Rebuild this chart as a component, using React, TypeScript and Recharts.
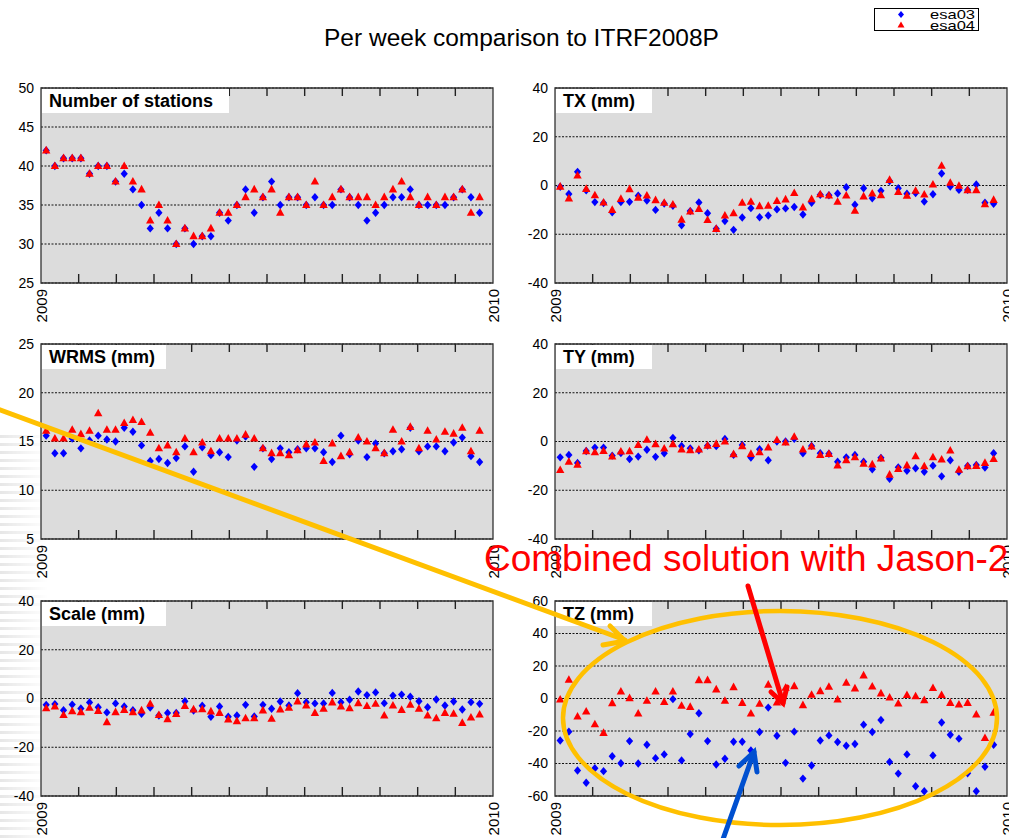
import React from "react";
import { ScatterChart, Scatter, XAxis, YAxis, CartesianGrid, ReferenceArea } from "recharts";

// week index within 2009 (one point per week)
const weeks = [
  1, 2, 3, 4, 5, 6, 7, 8, 9, 10, 11, 12, 13, 14, 15, 16, 17, 18, 19, 20, 21, 22, 23, 24, 25, 26,
  27, 28, 29, 30, 31, 32, 33, 34, 35, 36, 37, 38, 39, 40, 41, 42, 43, 44, 45, 46, 47, 48, 49, 50, 51,
];

const yearLabels = ["2009", "2010"];
const seriesNames = ["esa03", "esa04"];

const stations03 = [42, 40, 41, 41, 41, 39, 40, 40, 38, 39, 37, 35, 32, 34, 32, 30, 32, 30, 31, 31, 34, 33, 35, 37, 34, 36, 38, 35, 36, 36, 35, 36, 35, 35, 37, 36, 35, 33, 34, 35, 36, 36, 37, 35, 35, 35, 35, 36, 37, 36, 34];
const stations04 = [42, 40, 41, 41, 41, 39, 40, 40, 38, 40, 38, 37, 33, 35, 33, 30, 32, 31, 31, 32, 34, 34, 35, 36, 37, 36, 37, 34, 36, 36, 35, 38, 35, 36, 37, 36, 36, 36, 35, 36, 37, 38, 36, 35, 36, 35, 36, 36, 37, 34, 36];

const tx03 = [-0.5, -3.5, 5.6, -2, -6.8, -7.2, -11, -6.8, -6.7, -4.2, -6.2, -10, -7.4, -8.3, -16.3, -10.5, -7, -11.4, -17.7, -14.6, -18.2, -13.1, -9.3, -13, -12.3, -9.8, -9.4, -8.8, -11.9, -7.1, -3.8, -4, -3.3, -0.7, -7.9, -1.1, -5.2, -2.2, 1.8, -1.1, -3.4, -3.1, -6.6, -3.6, 4.9, -0.4, -1.8, -1.8, 0.4, -7.1, -7.5];
const tx04 = [-0.5, -5.3, 4.1, -1.4, -4, -7, -10, -5.5, -1.5, -5, -4.1, -6, -7.1, -7.8, -14, -10.7, -9.6, -14.2, -17.8, -12.3, -11.4, -7.1, -6.7, -8.5, -8.3, -6.4, -5.7, -3.1, -9, -5.6, -3.6, -4.1, -6.7, -4.1, -10.4, -4.5, -3.3, -4, 2.3, -2.7, -4.2, -2.2, -3.7, 0.4, 8.1, 1.1, -0.1, -1.9, -1.9, -7.7, -5.9];

const wrms03 = [15.6, 13.8, 13.8, 15.3, 14.3, 15.1, 15.6, 15.2, 15, 16.4, 16, 14.6, 13, 13.2, 12.8, 13.3, 14.5, 11.9, 14.4, 13.6, 13.9, 13.4, 15.1, 15.5, 12.4, 14.3, 13.2, 14.3, 13.9, 14.2, 14.3, 14.3, 13.9, 12.9, 15.6, 13.7, 15.1, 13.4, 14.8, 13.8, 14, 14.2, 16.4, 14, 14.5, 14.5, 14, 14.9, 15.4, 13.5, 12.9];
const wrms04 = [16.1, 15.3, 15.3, 16.2, 15.75, 16.1, 17.9, 16.2, 16.2, 16.9, 17.2, 17, 15.9, 14.3, 14.6, 13.9, 15.3, 13.9, 14.9, 14, 15.3, 15.3, 15.3, 15.7, 15.3, 14.3, 13.8, 13.8, 13.6, 14.1, 14.7, 14.9, 13, 14.8, 13.5, 13.9, 15.4, 15, 14.3, 13.8, 16.2, 15, 16.5, 14.3, 16.1, 15.2, 16, 15.8, 16.4, 14, 16.1];

const ty03 = [-6.5, -5.5, -8.8, -3.9, -2.5, -2.5, -5.8, -4.7, -7.2, -6.2, -3.4, -6.3, -4.8, 1.5, -1.8, -2.8, -3.6, -1.7, -1.9, 1, -5.5, -1.4, -6.6, -3.2, -7.7, 0, 0, 1.1, -4.8, -1.8, -4.8, -5, -8.3, -6.5, -5.5, -8.3, -11.4, -6.7, -15.3, -10.6, -12, -11, -12.4, -9.9, -14.3, -7.7, -12.4, -10, -9.6, -10.7, -4.8];
const ty04 = [-11.7, -8.3, -9.5, -4, -4.4, -3.9, -6.2, -4.1, -4, -1.4, 0.7, -1.1, -2.9, -1.1, -3.3, -3.6, -3.3, -1.7, -1, 0, -5.2, -1.9, -5.1, -4.4, -2.5, 0.6, -0.4, 1.9, -3.3, -2.1, -5.5, -5.1, -9.8, -7.7, -6.5, -9.1, -9.4, -7, -13.6, -11.3, -9.8, -6.1, -10.2, -6.5, -7.4, -3.7, -11.6, -10.2, -10, -8.8, -7.2];

const scale03 = [-2.6, -2.3, -4.8, -2.5, -4.1, -1.6, -3.6, -5.7, -2, -3.3, -4.8, -6.3, -3.7, -7, -5.9, -5.9, -1.1, -4.9, -3, -7.5, -3.3, -7.5, -7, -2.6, -7.4, -2.6, -4.2, -1.2, -2.9, 2.2, -1.5, -2, -2, 2.3, -1.5, -0.5, 2.9, 1.4, 2.5, -1.9, 1.2, 1.6, 0.7, -1.1, -3.6, -0.4, -2.9, -1.2, -4.5, -1.5, -2.2];
const scale04 = [-4, -3.3, -6.8, -5.2, -5.6, -3.8, -5.1, -9.7, -5.6, -4.7, -5.6, -4.9, -2.2, -6.8, -8.5, -6.4, -3.1, -4.5, -4.4, -5.3, -5.9, -8.6, -9.3, -8.1, -8.1, -4.9, -8.3, -4.5, -3.8, -1.2, -2.9, -5.9, -4.2, -1.6, -3.3, -4, -1.9, -3.1, -2.2, -7, -2.9, -4.7, -2.6, -4.2, -7, -8.1, -5.9, -6.3, -10, -7.8, -6.6];

const tz03 = [-25.8, -20.4, -44.3, -51.8, -42.9, -44.7, -35.5, -39.8, -26.2, -40, -28.5, -36.7, -34.4, -0.4, -38.1, -21.9, -9.1, -26.2, -40.6, -37.1, -26.6, -26.6, -32, -20.6, -5.6, -22.9, -39.6, -20.4, -49.3, -41.2, -25.8, -22.7, -26.8, -29.1, -28, -16.1, -20.6, -13.2, -39, -46.2, -34.4, -54, -57.1, -35, -14.8, -22.3, -24.7, -46, -57.1, -42, -28.5];
const tz04 = [-0.6, 11.5, -11.1, -8, -15.9, -21.2, -2.9, 4.3, 0.2, -9.3, -1.4, 4.3, -2.1, 4.3, -4.5, -5.2, 11.3, 11.3, 5.6, -1.4, 7, -2.7, -9.3, -3.3, 8.5, -2.5, 6.6, 7.6, -4.1, 2.3, 4.5, 7.2, -0.6, 9.7, 6.2, 14.2, 7.4, 3.1, 0.6, -3.1, 2.1, 1.4, -1, 6.4, 2.1, -2.7, -3.7, -2.7, -9.9, -24.3, -8.7];

const FONT = "'Liberation Sans', Arial, Helvetica, sans-serif";
const BLUE = "#0000ff";
const RED = "#ff0000";
const GOLD = "#ffc000";
const PLOT_W = 452;
const PLOT_H = 195;
const TOP_M = 12;
const RIGHT_M = 12;
const X_AX_H = 50;

// month boundaries of 2009 as fraction of the year
const monthTicks = Array.from({ length: 13 }, (_, k) => 2009 + k / 12);

const toPoints = (vals: number[]) =>
  vals.map((v, i) => ({ x: 2009 + ((weeks[i] - 0.4) * 7) / 365, y: v }));

const Diamond = (p: any) => (
  <polygon
    points={`${p.cx},${p.cy - 4.2} ${p.cx + 3.6},${p.cy} ${p.cx},${p.cy + 4.2} ${p.cx - 3.6},${p.cy}`}
    fill={BLUE}
  />
);

const Triangle = (p: any) => (
  <polygon
    points={`${p.cx},${p.cy - 4.6} ${p.cx + 4.2},${p.cy + 3} ${p.cx - 4.2},${p.cy + 3}`}
    fill={RED}
  />
);

function MonthTick(props: any) {
  const { x, y, payload } = props;
  const v = payload.value;
  if (Math.abs(v - 2009) < 1e-6 || Math.abs(v - 2010) < 1e-6) {
    const label = Math.abs(v - 2009) < 1e-6 ? yearLabels[0] : yearLabels[1];
    return (
      <text
        x={x}
        y={y + 6}
        transform={`rotate(-90 ${x} ${y + 6})`}
        textAnchor="end"
        dominantBaseline="central"
        fontSize={15}
        fontFamily={FONT}
        fill="#000"
      >
        {label}
      </text>
    );
  }
  return (
    <g stroke="#222" strokeWidth={1.4}>
      <line x1={x} x2={x} y1={y} y2={y - 9} />
      <line x1={x} x2={x} y1={y - PLOT_H} y2={y - PLOT_H + 8} />
    </g>
  );
}

type PanelProps = {
  title: string;
  boxW: number;
  plotLeft: number;
  plotTop: number;
  yW: number;
  domain: [number, number];
  yTicks: number[];
  s03: number[];
  s04: number[];
};

function Panel({ title, boxW, plotLeft, plotTop, yW, domain, yTicks, s03, s04 }: PanelProps) {
  return (
    <>
      <div style={{ position: "absolute", left: plotLeft - yW, top: plotTop - TOP_M }}>
        <ScatterChart
          width={yW + PLOT_W + RIGHT_M}
          height={TOP_M + PLOT_H + X_AX_H}
          margin={{ top: TOP_M, right: RIGHT_M, bottom: 0, left: 0 }}
        >
          <CartesianGrid vertical={false} fill="#dcdcdc" stroke="#111" strokeDasharray="2 1.5" />
          <XAxis
            type="number"
            dataKey="x"
            domain={[2009, 2010]}
            ticks={monthTicks}
            interval={0}
            allowDataOverflow
            axisLine={false}
            tickLine={false}
            tickSize={0}
            tickMargin={0}
            height={X_AX_H}
            tick={(p: any) => <MonthTick {...p} />}
          />
          <YAxis
            type="number"
            dataKey="y"
            domain={domain}
            ticks={yTicks}
            interval={0}
            allowDataOverflow
            axisLine={false}
            tickLine={false}
            tickSize={0}
            tickMargin={7}
            width={yW}
            tick={{ fontSize: 14, fill: "#000", fontFamily: FONT }}
          />
          <ReferenceArea
            x1={2009}
            x2={2010}
            y1={domain[0]}
            y2={domain[1]}
            fill="none"
            stroke="#333"
            strokeWidth={1.3}
            ifOverflow="visible"
          />
          <Scatter name={seriesNames[0]} data={toPoints(s03)} shape={Diamond} isAnimationActive={false} />
          <Scatter name={seriesNames[1]} data={toPoints(s04)} shape={Triangle} isAnimationActive={false} />
        </ScatterChart>
      </div>
      <div
        style={{
          position: "absolute",
          left: plotLeft + 1,
          top: plotTop + 1,
          width: boxW,
          height: 24,
          background: "#fff",
          fontFamily: FONT,
          fontWeight: "bold",
          fontSize: 18,
          lineHeight: "24px",
          paddingLeft: 7,
          boxSizing: "border-box",
          color: "#000",
          whiteSpace: "nowrap",
        }}
      >
        {title}
      </div>
    </>
  );
}

export default function App() {
  const L = 41;
  const R = 555;
  const rows = [88, 344, 601];
  return (
    <div
      style={{
        position: "absolute",
        left: 0,
        top: 0,
        width: 1009,
        height: 838,
        background: "#fff",
        overflow: "hidden",
        fontFamily: FONT,
      }}
    >
      <div
        style={{
          position: "absolute",
          left: 0,
          top: 430,
          width: 48,
          height: 408,
          background: "repeating-linear-gradient(180deg, #ffffff 0px, #ffffff 5px, #e4e4e4 5px, #e4e4e4 8px)",
          WebkitMaskImage: "linear-gradient(to right, rgba(0,0,0,0.9), rgba(0,0,0,0))",
          maskImage: "linear-gradient(to right, rgba(0,0,0,0.9), rgba(0,0,0,0))",
        }}
      />
      <svg width={1009} height={60} style={{ position: "absolute", left: 0, top: 0 }}>
        <text x={324} y={46} fontSize={24.5} fontFamily={FONT} fill="#000">
          Per week comparison to ITRF2008P
        </text>
        <rect x={874.5} y={8.5} width={104} height={22} fill="#fff" stroke="#000" strokeWidth={1} />
        <polygon points="901,11 904,14.5 901,18 898,14.5" fill={BLUE} />
        <polygon points="901,21.5 904.5,27.5 897.5,27.5" fill={RED} />
        <text x={930} y={19} fontSize={13} fontFamily={FONT} textLength={45} lengthAdjust="spacingAndGlyphs">
          {seriesNames[0]}
        </text>
        <text x={930} y={30} fontSize={13} fontFamily={FONT} textLength={45} lengthAdjust="spacingAndGlyphs">
          {seriesNames[1]}
        </text>
      </svg>

      <Panel title="Number of stations" boxW={187} plotLeft={L} plotTop={rows[0]} yW={41} domain={[25, 50]} yTicks={[25, 30, 35, 40, 45, 50]} s03={stations03} s04={stations04} />
      <Panel title="TX (mm)" boxW={96} plotLeft={R} plotTop={rows[0]} yW={50} domain={[-40, 40]} yTicks={[-40, -20, 0, 20, 40]} s03={tx03} s04={tx04} />
      <Panel title="WRMS (mm)" boxW={124} plotLeft={L} plotTop={rows[1]} yW={41} domain={[5, 25]} yTicks={[5, 10, 15, 20, 25]} s03={wrms03} s04={wrms04} />
      <Panel title="TY (mm)" boxW={96} plotLeft={R} plotTop={rows[1]} yW={50} domain={[-40, 40]} yTicks={[-40, -20, 0, 20, 40]} s03={ty03} s04={ty04} />
      <Panel title="Scale (mm)" boxW={124} plotLeft={L} plotTop={rows[2]} yW={41} domain={[-40, 40]} yTicks={[-40, -20, 0, 20, 40]} s03={scale03} s04={scale04} />
      <Panel title="TZ (mm)" boxW={96} plotLeft={R} plotTop={rows[2]} yW={50} domain={[-60, 60]} yTicks={[-60, -40, -20, 0, 20, 40, 60]} s03={tz03} s04={tz04} />

      <svg width={1009} height={838} style={{ position: "absolute", left: 0, top: 0, pointerEvents: "none" }}>
        <g fill="none" stroke={GOLD} strokeWidth={5} strokeLinecap="round" strokeLinejoin="round">
          <line x1={-5} y1={408} x2={625} y2={640} />
          <polyline points="610,626 625,641 603,645" />
          <ellipse cx={780} cy={718} rx={217} ry={107} strokeWidth={4.5} />
        </g>
        <text x={484} y={571} fontSize={37} fontFamily={FONT} fill={RED}>
          Combined solution with Jason-2
        </text>
        <g fill="none" stroke={RED} strokeWidth={5} strokeLinecap="round" strokeLinejoin="miter">
          <line x1={748} y1={586} x2={783} y2={703} />
          <polyline points="771,692 783,703 787,687" />
        </g>
        <g fill="none" stroke="#0050d0" strokeWidth={5} strokeLinecap="round" strokeLinejoin="miter">
          <line x1={722} y1={842} x2={754} y2={752} />
          <polyline points="739,766 754,752 757,772" />
        </g>
      </svg>
    </div>
  );
}
